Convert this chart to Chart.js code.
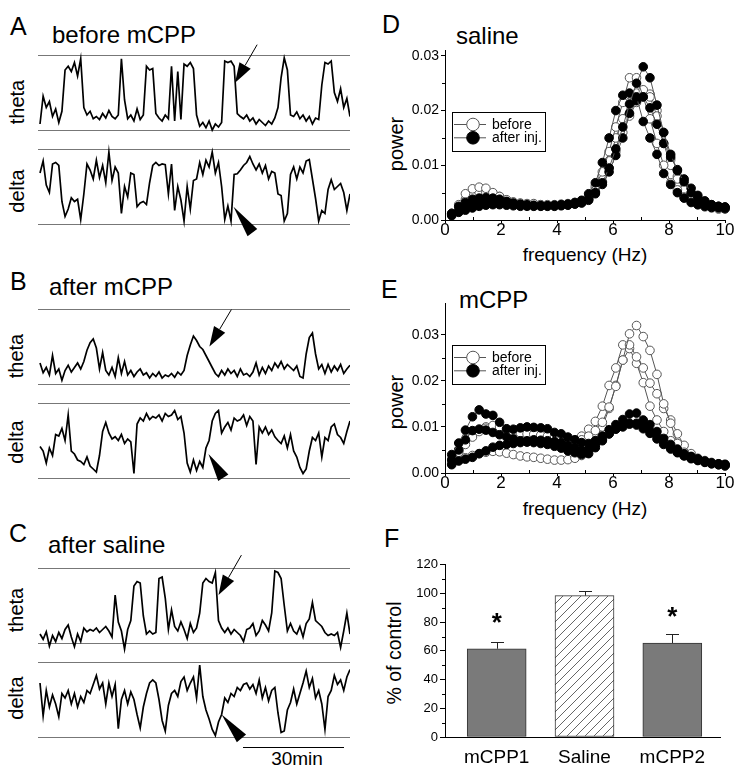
<!DOCTYPE html>
<html><head><meta charset="utf-8">
<script src="https://cdn.jsdelivr.net/npm/chart.js@4"></script>
<style>
body{margin:0;background:#fff;width:742px;height:776px;position:relative;overflow:hidden;font-family:"Liberation Sans",Arial,Helvetica,sans-serif;color:#000;}
canvas{position:absolute;}
.t{position:absolute;white-space:nowrap;line-height:1;}
.r{position:absolute;white-space:nowrap;line-height:1;transform:translate(-50%,-50%) rotate(-90deg);}
.cx{position:absolute;white-space:nowrap;line-height:1;transform:translateX(-50%);}
</style></head><body>

<div class="t" style="left:10px;top:14px;font-size:25px">A</div>
<div class="t" style="left:52px;top:22.7px;font-size:24px">before mCPP</div>
<div class="t" style="left:10px;top:269px;font-size:25px">B</div>
<div class="t" style="left:49px;top:274.7px;font-size:24px">after mCPP</div>
<div class="t" style="left:9px;top:521px;font-size:25px">C</div>
<div class="t" style="left:48px;top:532.7px;font-size:24px">after saline</div>
<div class="t" style="left:382px;top:12px;font-size:25px">D</div>
<div class="t" style="left:456px;top:23.7px;font-size:24px">saline</div>
<div class="t" style="left:381px;top:277px;font-size:25px">E</div>
<div class="t" style="left:459px;top:287.7px;font-size:24px">mCPP</div>
<div class="t" style="left:384px;top:526px;font-size:25px">F</div>

<div class="r" style="left:17px;top:102px;font-size:20px">theta</div>
<div class="r" style="left:17px;top:191px;font-size:20px">delta</div>
<div class="r" style="left:16px;top:356px;font-size:20px">theta</div>
<div class="r" style="left:16px;top:442px;font-size:20px">delta</div>
<div class="r" style="left:16px;top:610px;font-size:20px">theta</div>
<div class="r" style="left:16px;top:698px;font-size:20px">delta</div>
<div class="r" style="left:396px;top:144px;font-size:20px">power</div>
<div class="r" style="left:396px;top:402px;font-size:20px">power</div>
<div class="r" style="left:395px;top:653px;font-size:19.5px">% of control</div>
<div class="cx" style="left:585px;top:244.5px;font-size:19px">frequency (Hz)</div>
<div class="cx" style="left:585px;top:499px;font-size:19px">frequency (Hz)</div>
<div style="position:absolute;left:243px;top:747px;width:101px;height:1px;background:#000"></div>
<div class="cx" style="left:297px;top:749px;font-size:19px">30min</div>

<canvas id="aT" width="312" height="117" style="left:38px;top:37px"></canvas>
<canvas id="aD" width="312" height="117" style="left:38px;top:131px"></canvas>
<canvas id="bT" width="312" height="117" style="left:38px;top:291px"></canvas>
<canvas id="bD" width="312" height="117" style="left:38px;top:385px"></canvas>
<canvas id="cT" width="312" height="117" style="left:38px;top:550px"></canvas>
<canvas id="cD" width="312" height="117" style="left:38px;top:644px"></canvas>
<canvas id="chD" width="372" height="235" style="left:370px;top:40px"></canvas>
<canvas id="chE" width="372" height="235" style="left:370px;top:293px"></canvas>
<canvas id="chF" width="372" height="221" style="left:370px;top:555px"></canvas>

<script>
// ---------- DATA ----------
// EEG band traces (0 = lower reference line, 100 = upper reference line), one value per sample
const thetaA = [8,45,30,38,18,28,10,25,80,85, 78,90,72,95,30,20,25,15,18,14, 22,16,26,18,15,20,95,40,15,20, 12,28,14,20,85,80,82,22,16,12, 20,15,85,12,78,14,88,85,90,82, 20,5,10,3,12,0,8,4,10,92, 90,92,85,22,18,15,20,12,16,8, 14,10,6,12,8,16,30,70,96,80, 20,18,24,15,20,12,18,8,16,14, 60,90,88,92,50,38,55,30,42,18];
const deltaA = [68,84,52,42,80,82,78,30,10,20, 35,30,33,6,40,80,72,60,85,62, 78,55,96,58,76,68,14,50,36,68, 66,23,28,30,26,55,78,82,78,80, 79,40,80,18,50,32,4,50,20,58, 60,82,66,85,76,96,68,82,50,6, 24,4,66,67,72,78,82,90,80,72, 80,68,78,60,70,68,40,38,4,14, 66,76,60,76,68,84,86,60,34,4, 18,14,46,59,46,50,54,42,18,40];
const thetaB = [28,15,22,12,38,14,20,5,18,25, 16,22,28,20,30,45,55,60,48,20, 42,18,12,22,10,35,14,30,12,18, 10,16,20,12,15,8,14,10,16,8, 12,10,14,9,16,12,18,38,52,64, 58,50,46,38,30,22,14,10,18,12, 20,14,18,10,20,12,14,10,16,28, 12,22,14,24,18,28,22,30,20,26, 22,18,24,10,8,40,62,68,40,20, 26,14,26,16,24,18,26,14,20,25];
const deltaB = [42,36,20,40,30,58,56,66,50,84, 36,32,24,22,18,28,16,12,8,30, 62,74,60,52,55,50,58,46,52,48, 6,72,80,76,86,78,82,80,84,76, 86,82,84,90,78,82,60,20,8,24, 10,22,14,40,50,76,86,90,60,68, 74,64,80,76,78,84,70,82,76,18, 68,60,68,58,64,55,50,46,56,40, 58,36,28,14,6,12,36,54,50,60, 28,54,50,68,72,58,54,46,62,76];
const thetaC = [12,5,15,-4,10,2,14,6,18,24, 8,-5,12,2,20,15,18,16,20,14, 18,22,16,8,64,28,16,-8,18,30, 76,82,80,36,12,16,12,14,86,88, 60,18,44,22,16,28,18,6,26,14, 20,40,80,86,82,80,94,30,20,14, 20,12,18,14,10,2,18,20,26,10, 16,30,24,16,40,96,94,86,50,16, 26,16,12,22,8,26,32,54,30,26, 22,14,10,12,10,14,-6,16,40,12];
const deltaC = [72,28,62,40,56,44,27,58,52,62, 44,58,40,54,46,62,58,70,82,64, 72,44,72,54,70,11,50,62,44,60, 50,30,12,40,58,72,76,72,50,22, 8,42,58,62,54,74,80,62,72,80, 52,96,54,36,24,10,2,20,30,52, 46,58,54,66,62,70,72,64,70,58, 76,52,66,48,62,66,32,6,8,36, 46,64,44,58,72,88,66,78,52,62, 44,10,54,62,82,70,76,62,80,90];

// power spectra: frequency (Hz)
const freq = [0.24,0.49,0.73,0.98,1.22,1.46,1.71,1.95,2.20,2.44,2.69,2.93,3.17,3.42,3.66,3.91,4.15,4.39,4.64,4.88,5.13,5.37,5.62,5.86,6.10,6.35,6.59,6.84,7.08,7.32,7.57,7.81,8.06,8.30,8.54,8.79,9.03,9.28,9.52,9.77,10.0];
// D: saline, before (open) and after injection (filled)
const salBefore1 = [0.0012,0.0028,0.0048,0.0057,0.0060,0.0058,0.0050,0.0043,0.0037,0.0033,0.0031,0.0030,0.0030,0.0028,0.0028,0.0028,0.0029,0.0030,0.0032,0.0035,0.0045,0.0062,0.0088,0.0125,0.0170,0.0215,0.0260,0.0260,0.0225,0.0185,0.0140,0.0100,0.0068,0.0055,0.0042,0.0035,0.0028,0.0024,0.0022,0.0020,0.0020];
const salBefore2 = [0.0010,0.0022,0.0038,0.0046,0.0050,0.0050,0.0047,0.0043,0.0036,0.0032,0.0030,0.0029,0.0029,0.0028,0.0027,0.0027,0.0028,0.0029,0.0031,0.0034,0.0042,0.0058,0.0080,0.0108,0.0150,0.0185,0.0215,0.0232,0.0238,0.0225,0.0190,0.0140,0.0100,0.0075,0.0055,0.0042,0.0033,0.0027,0.0024,0.0022,0.0021];
const salBefore3 = [0.0012,0.0020,0.0030,0.0036,0.0040,0.0042,0.0042,0.0040,0.0036,0.0032,0.0030,0.0029,0.0028,0.0027,0.0027,0.0027,0.0028,0.0029,0.0030,0.0033,0.0040,0.0052,0.0070,0.0095,0.0125,0.0160,0.0190,0.0215,0.0235,0.0230,0.0200,0.0160,0.0110,0.0080,0.0060,0.0045,0.0035,0.0028,0.0025,0.0023,0.0022];
const salAfter1 = [0.0008,0.0016,0.0025,0.0030,0.0033,0.0036,0.0038,0.0036,0.0033,0.0030,0.0028,0.0027,0.0026,0.0026,0.0026,0.0026,0.0027,0.0028,0.0030,0.0032,0.0038,0.0050,0.0068,0.0095,0.0130,0.0170,0.0212,0.0250,0.0280,0.0260,0.0210,0.0160,0.0120,0.0090,0.0070,0.0050,0.0040,0.0032,0.0028,0.0025,0.0024];
const salAfter2 = [0.0012,0.0025,0.0032,0.0038,0.0040,0.0041,0.0040,0.0038,0.0034,0.0031,0.0029,0.0028,0.0027,0.0026,0.0026,0.0027,0.0028,0.0029,0.0032,0.0036,0.0048,0.0068,0.0105,0.0150,0.0200,0.0228,0.0232,0.0225,0.0180,0.0150,0.0120,0.0085,0.0065,0.0050,0.0040,0.0032,0.0028,0.0025,0.0023,0.0022,0.0021];
const salAfter3 = [0.0010,0.0014,0.0018,0.0022,0.0025,0.0027,0.0028,0.0028,0.0027,0.0026,0.0025,0.0025,0.0025,0.0025,0.0025,0.0025,0.0026,0.0027,0.0029,0.0031,0.0036,0.0048,0.0065,0.0088,0.0118,0.0150,0.0195,0.0218,0.0225,0.0205,0.0175,0.0140,0.0115,0.0092,0.0075,0.0058,0.0045,0.0035,0.0028,0.0025,0.0023];
// E: mCPP, before (open) and after injection (filled)
const mcppBefore1 = [0.0028,0.0045,0.0062,0.0078,0.0090,0.0097,0.0103,0.0100,0.0095,0.0090,0.0087,0.0085,0.0084,0.0082,0.0080,0.0078,0.0075,0.0072,0.0070,0.0072,0.0080,0.0092,0.0110,0.0143,0.0188,0.0245,0.0302,0.0320,0.0296,0.0266,0.0214,0.0150,0.0108,0.0064,0.0045,0.0035,0.0028,0.0024,0.0020,0.0018,0.0016];
const mcppBefore2 = [0.0030,0.0050,0.0070,0.0085,0.0095,0.0100,0.0098,0.0095,0.0090,0.0085,0.0080,0.0080,0.0080,0.0078,0.0076,0.0074,0.0072,0.0070,0.0072,0.0080,0.0095,0.0112,0.0145,0.0190,0.0228,0.0278,0.0278,0.0252,0.0228,0.0195,0.0172,0.0140,0.0115,0.0085,0.0060,0.0042,0.0032,0.0027,0.0023,0.0020,0.0018];
const mcppBefore3 = [0.0020,0.0028,0.0033,0.0038,0.0042,0.0045,0.0047,0.0046,0.0043,0.0040,0.0037,0.0035,0.0034,0.0032,0.0030,0.0028,0.0028,0.0029,0.0032,0.0038,0.0050,0.0070,0.0100,0.0140,0.0190,0.0245,0.0270,0.0238,0.0196,0.0145,0.0115,0.0090,0.0070,0.0055,0.0045,0.0037,0.0030,0.0025,0.0021,0.0018,0.0015];
const mcppAfter1 = [0.0040,0.0065,0.0093,0.0122,0.0137,0.0128,0.0125,0.0110,0.0096,0.0095,0.0098,0.0100,0.0099,0.0098,0.0096,0.0088,0.0085,0.0078,0.0072,0.0066,0.0064,0.0070,0.0080,0.0094,0.0105,0.0116,0.0128,0.0130,0.0115,0.0105,0.0090,0.0075,0.0062,0.0052,0.0042,0.0036,0.0031,0.0026,0.0022,0.0020,0.0019];
const mcppAfter2 = [0.0028,0.0050,0.0072,0.0092,0.0095,0.0093,0.0088,0.0083,0.0078,0.0074,0.0070,0.0070,0.0072,0.0071,0.0070,0.0068,0.0066,0.0060,0.0055,0.0050,0.0052,0.0060,0.0072,0.0085,0.0095,0.0100,0.0106,0.0108,0.0102,0.0092,0.0080,0.0067,0.0055,0.0045,0.0038,0.0032,0.0028,0.0024,0.0021,0.0019,0.0018];
const mcppAfter3 = [0.0018,0.0026,0.0030,0.0034,0.0042,0.0048,0.0056,0.0060,0.0062,0.0064,0.0066,0.0067,0.0066,0.0064,0.0062,0.0058,0.0054,0.0048,0.0044,0.0040,0.0042,0.0055,0.0070,0.0085,0.0096,0.0104,0.0108,0.0104,0.0096,0.0086,0.0074,0.0062,0.0052,0.0044,0.0037,0.0031,0.0027,0.0023,0.0020,0.0018,0.0016];
const legendLabels = ['before', 'after inj.'];
const powerTicks = [0, 0.01, 0.02, 0.03];
const powerMinor = [0.005, 0.015, 0.025];
const freqTicks = [0, 2, 4, 6, 8, 10];
const freqMinor = [1, 3, 5, 7, 9];
// F: bar chart
const groups = ['mCPP1', 'Saline', 'mCPP2'];
const pctControl = [61.5, 98.5, 65.5];
const pctError = [5, 3, 6];
const starLevel = [84.5, null, 88.5];
const pctTicks = [0, 20, 40, 60, 80, 100, 120];
const pctMinor = [10, 30, 50, 70, 90, 110];

// ---------- PLUGINS ----------
const FONT = '"Liberation Sans", Arial, Helvetica, sans-serif';
Chart.defaults.font.family = FONT;
Chart.defaults.color = '#000';

const arrowMark = {
  id: 'arrowMark',
  afterDatasetsDraw(chart, args, o) {
    if (!o || o.x === undefined) return;
    const ctx = chart.ctx;
    const tx = chart.scales.x.getPixelForValue(o.x), ty = chart.scales.y.getPixelForValue(o.y);
    const L = Math.hypot(o.dx, o.dy), ux = o.dx / L, uy = o.dy / L;
    const bx = tx + ux * o.head, by = ty + uy * o.head;
    const nx = -uy * o.width / 2, ny = ux * o.width / 2;
    ctx.save();
    ctx.fillStyle = '#000';
    ctx.beginPath(); ctx.moveTo(tx, ty); ctx.lineTo(bx + nx, by + ny); ctx.lineTo(bx - nx, by - ny); ctx.closePath(); ctx.fill();
    if (o.tail > o.head) {
      ctx.strokeStyle = '#000'; ctx.lineWidth = 1;
      ctx.beginPath(); ctx.moveTo(bx, by); ctx.lineTo(tx + ux * o.tail, ty + uy * o.tail); ctx.stroke();
    }
    ctx.restore();
  }
};

const minorTicks = {
  id: 'minorTicks',
  afterDraw(chart, args, o) {
    if (!o || !o.len) return;
    const ctx = chart.ctx, a = chart.chartArea;
    ctx.save(); ctx.strokeStyle = '#000'; ctx.lineWidth = 1;
    (o.y || []).forEach(v => {
      const p = Math.round(chart.scales.y.getPixelForValue(v)) + 0.5;
      ctx.beginPath(); ctx.moveTo(Math.round(a.left) - o.len, p); ctx.lineTo(Math.round(a.left), p); ctx.stroke();
    });
    (o.x || []).forEach(v => {
      const p = Math.round(chart.scales.x.getPixelForValue(v)) + 0.5;
      const b = Math.round(a.bottom);
      ctx.beginPath(); ctx.moveTo(p, b); ctx.lineTo(p, o.xInside ? b - o.len : b + o.len); ctx.stroke();
    });
    ctx.restore();
  }
};

const boxLegend = {
  id: 'boxLegend',
  afterDraw(chart, args, o) {
    if (!o || !o.labels) return;
    const ctx = chart.ctx, a = chart.chartArea;
    const L = Math.round(a.left + o.dx), T = Math.round(a.top + o.dy);
    ctx.save();
    ctx.strokeStyle = '#000'; ctx.lineWidth = 1;
    ctx.strokeRect(L + 0.5, T + 0.5, o.w, o.h);
    const styles = [{fill: '#fff', stroke: '#555'}, {fill: '#000', stroke: '#000'}];
    o.labels.forEach((txt, k) => {
      const y = T + o.y0 + k * o.step;
      ctx.strokeStyle = '#555'; ctx.lineWidth = 1;
      ctx.beginPath(); ctx.moveTo(L + 2, y); ctx.lineTo(L + 34, y); ctx.stroke();
      ctx.beginPath(); ctx.arc(L + 21, y, 6.3, 0, Math.PI * 2);
      ctx.fillStyle = styles[k].fill; ctx.fill(); ctx.strokeStyle = styles[k].stroke; ctx.stroke();
      ctx.fillStyle = '#000'; ctx.font = '14px ' + FONT; ctx.textBaseline = 'middle'; ctx.textAlign = 'left';
      ctx.fillText(txt, L + 40, y + 0.5);
    });
    ctx.restore();
  }
};

const errBars = {
  id: 'errBars',
  afterDatasetsDraw(chart, args, o) {
    if (!o || !o.err) return;
    const meta = chart.getDatasetMeta(0), ys = chart.scales.y, ctx = chart.ctx;
    ctx.save(); ctx.strokeStyle = '#222'; ctx.lineWidth = 1;
    meta.data.forEach((bar, i) => {
      const x = Math.round(bar.x) + 0.5;
      const yE = Math.round(ys.getPixelForValue(o.values[i] + o.err[i])) + 0.5;
      ctx.beginPath(); ctx.moveTo(x, bar.y); ctx.lineTo(x, yE);
      ctx.moveTo(x - 6.5, yE); ctx.lineTo(x + 6.5, yE); ctx.stroke();
      if (o.stars[i] !== null && o.stars[i] !== undefined) {
        ctx.fillStyle = '#000'; ctx.font = 'bold 26px ' + FONT; ctx.textAlign = 'center'; ctx.textBaseline = 'alphabetic';
        ctx.fillText('*', bar.x, ys.getPixelForValue(o.stars[i]) + 0.58 * 26);
      }
    });
    ctx.restore();
  }
};
Chart.register(arrowMark, minorTicks, boxLegend, errBars);

// ---------- TRACES ----------
function traceChart(id, values, arrow) {
  new Chart(document.getElementById(id), {
    type: 'line',
    data: { datasets: [{ data: values.map((v, i) => ({x: i, y: v})), borderColor: '#000', borderWidth: 1.7,
      pointRadius: 0, tension: 0, clip: false }] },
    options: {
      responsive: false, animation: false, events: [],
      layout: { padding: 0 },
      plugins: { legend: { display: false }, tooltip: { enabled: false }, arrowMark: arrow },
      scales: {
        x: { type: 'linear', min: -0.64, max: 99, display: false },
        y: { type: 'linear', min: -32, max: 124,
          afterFit(s) { s.width = 0; },
          afterBuildTicks(s) { s.ticks = [{value: 0}, {value: 100}]; },
          ticks: { display: false },
          grid: { color: '#777', lineWidth: 1, drawTicks: false },
          border: { display: false } }
      }
    }
  });
}
traceChart('aT', thetaA, {x: 62.3, y: 63, dx: 22, dy: -38, head: 20, width: 13, tail: 44});
traceChart('aD', deltaA, {x: 61.8, y: 23, dx: 19, dy: 26, head: 32, width: 12, tail: 0});
traceChart('bT', thetaB, {x: 54.1, y: 50, dx: 22, dy: -37, head: 20, width: 13, tail: 43});
traceChart('bD', deltaB, {x: 53.8, y: 32, dx: 15, dy: 24, head: 28, width: 12, tail: 0});
traceChart('cT', thetaC, {x: 57, y: 64, dx: 23, dy: -40, head: 20, width: 13, tail: 46});
traceChart('cD', deltaC, {x: 58, y: 30, dx: 20, dy: 24, head: 31, width: 12, tail: 0});

// ---------- SPECTRA ----------
function series(arr, open) {
  return {
    data: freq.map((f, i) => ({x: f, y: arr[i]})),
    borderColor: '#555', borderWidth: 1, tension: 0, clip: false,
    pointRadius: 4.3, pointBorderWidth: 1,
    pointBackgroundColor: open ? '#fff' : '#000',
    pointBorderColor: open ? '#555' : '#000'
  };
}
function spectrum(id, before, after, yMax, legendDy) {
  new Chart(document.getElementById(id), {
    type: 'line',
    data: { datasets: [...after.map(a => series(a, false)), ...before.map(b => series(b, true))] },
    options: {
      responsive: false, animation: false, events: [],
      layout: { padding: { top: 0, right: 17, left: 0, bottom: 0 } },
      plugins: {
        legend: { display: false }, tooltip: { enabled: false },
        minorTicks: { len: 3, y: powerMinor, x: freqMinor, xInside: true },
        boxLegend: { labels: legendLabels, dx: 7, dy: legendDy, w: 93, h: 39, y0: 12.5, step: 13.3 }
      },
      scales: {
        x: { type: 'linear', min: 0, max: 10,
          afterFit(s) { s.height = 55; },
          afterBuildTicks(s) { s.ticks = freqTicks.map(v => ({value: v})); },
          ticks: { font: { size: 17 }, padding: -3, maxRotation: 0 },
          grid: { drawOnChartArea: false, tickLength: 3, color: '#000' },
          border: { color: '#000' } },
        y: { type: 'linear', min: 0, max: yMax,
          afterFit(s) { s.width = 75; },
          afterBuildTicks(s) { s.ticks = powerTicks.map(v => ({value: v})); },
          ticks: { font: { size: 14 }, padding: 2, callback: v => Number(v).toFixed(2) },
          grid: { drawOnChartArea: false, tickLength: 4, color: '#000' },
          border: { color: '#000' } }
      }
    }
  });
}
spectrum('chD', [salBefore1, salBefore2, salBefore3], [salAfter1, salAfter2, salAfter3], 0.031, 62);
spectrum('chE', [mcppBefore1, mcppBefore2, mcppBefore3], [mcppAfter1, mcppAfter2, mcppAfter3], 0.0368, 42);

// ---------- BARS ----------
function hatchPattern() {
  const c = document.createElement('canvas'); c.width = 9; c.height = 9;
  const g = c.getContext('2d');
  g.fillStyle = '#fff'; g.fillRect(0, 0, 9, 9);
  g.strokeStyle = '#555'; g.lineWidth = 0.9;
  g.beginPath(); g.moveTo(0, 9); g.lineTo(9, 0); g.moveTo(-2, 2); g.lineTo(2, -2); g.moveTo(7, 11); g.lineTo(11, 7); g.stroke();
  return g.createPattern(c, 'repeat');
}
new Chart(document.getElementById('chF'), {
  type: 'bar',
  data: { datasets: [{
    data: pctControl.map((v, i) => ({x: i + 1, y: v})),
    backgroundColor: ['#7a7a7a', hatchPattern(), '#7a7a7a'],
    borderColor: '#333', borderWidth: 1, borderSkipped: false, barThickness: 59
  }] },
  options: {
    responsive: false, animation: false, events: [],
    layout: { padding: { top: 7, right: 22, left: 0, bottom: 0 } },
    plugins: {
      legend: { display: false }, tooltip: { enabled: false },
      minorTicks: { len: 3, y: pctMinor },
      errBars: { values: pctControl, err: pctError, stars: starLevel }
    },
    scales: {
      x: { type: 'linear', min: 0.4114, max: 3.543, offset: false, bounds: 'ticks',
        afterFit(s) { s.height = 39; },
        afterBuildTicks(s) { s.ticks = groups.map((g, i) => ({value: i + 1})); },
        ticks: { font: { size: 19 }, padding: 9, maxRotation: 0, autoSkip: false, callback: v => groups[Math.round(v) - 1] },
        grid: { display: false, drawTicks: false, offset: false },
        border: { color: '#000' } },
      y: { type: 'linear', min: 0, max: 120,
        afterFit(s) { s.width = 75; },
        afterBuildTicks(s) { s.ticks = pctTicks.map(v => ({value: v})); },
        ticks: { font: { size: 13 }, padding: 2 },
        grid: { drawOnChartArea: false, tickLength: 5, color: '#000' },
        border: { color: '#000' } }
    }
  }
});
</script>
</body></html>
